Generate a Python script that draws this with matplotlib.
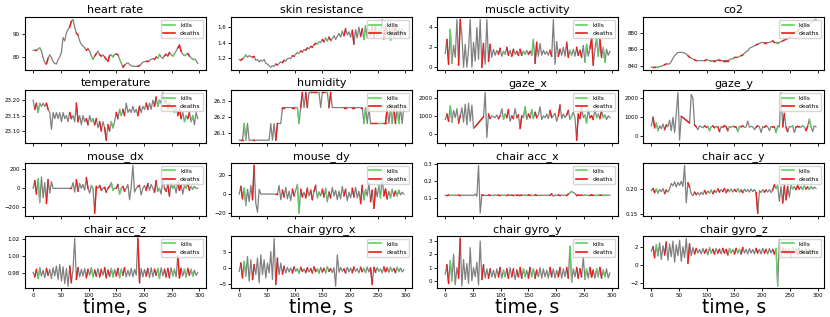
import matplotlib
matplotlib.use('Agg')
import matplotlib.pyplot as plt
import numpy as np
from matplotlib.lines import Line2D

# time grid (s) shared by all signals
t = np.arange(0, 300, 3)

# event times (s)
kills = [11, 108, 144, 159, 228, 255, 276, 288]
deaths = [5, 27, 69, 79, 97, 114, 123, 131, 138, 153, 165, 192, 207,
          222, 240, 246, 264, 267, 282]

titles = ['heart rate', 'skin resistance', 'muscle activity', 'co2',
          'temperature', 'humidity', 'gaze_x', 'gaze_y',
          'mouse_dx', 'mouse_dy', 'chair acc_x', 'chair acc_y',
          'chair acc_z', 'chair gyro_x', 'chair gyro_y', 'chair gyro_z']

heart_rate = [
    83.0, 83.0, 83.0, 83.5, 84.0, 82.6, 79.7, 77.5, 77.0, 79.5,
    81.0, 79.7, 78.0, 77.2, 77.0, 79.0, 80.0, 82.0, 88.5, 87.0,
    90.5, 92.0, 93.0, 95.5, 96.3, 93.0, 90.4, 89.5, 87.0, 85.5,
    84.8, 84.1, 83.0, 83.5, 82.6, 80.5, 79.0, 80.4, 81.5, 82.6,
    81.0, 80.4, 81.0, 80.0, 79.0, 78.2, 80.7, 81.0, 80.0, 81.2,
    81.3, 81.0, 79.0, 77.5, 75.6, 76.5, 77.2, 77.5, 76.8, 76.2,
    76.0, 76.0, 76.0, 76.0, 76.3, 77.0, 77.8, 78.0, 78.2, 78.2,
    78.5, 79.0, 79.4, 79.0, 80.0, 79.5, 81.2, 80.0, 79.4, 80.5,
    81.2, 80.5, 82.0, 81.0, 80.4, 81.5, 82.6, 84.0, 85.1, 82.5,
    81.2, 80.7, 81.0, 81.5, 80.5, 79.7, 79.0, 79.2, 78.5, 77.2]

skin_resistance = [
    1.18, 1.17, 1.19, 1.21, 1.24, 1.21, 1.23, 1.22, 1.21, 1.22,
    1.17, 1.18, 1.15, 1.17, 1.16, 1.18, 1.13, 1.12, 1.10, 1.08,
    1.10, 1.09, 1.12, 1.11, 1.13, 1.15, 1.14, 1.17, 1.16, 1.19,
    1.20, 1.19, 1.23, 1.22, 1.25, 1.27, 1.26, 1.29, 1.28, 1.31,
    1.30, 1.33, 1.32, 1.35, 1.34, 1.37, 1.39, 1.38, 1.41, 1.40,
    1.44, 1.41, 1.46, 1.42, 1.47, 1.43, 1.45, 1.49, 1.44, 1.48,
    1.52, 1.47, 1.55, 1.49, 1.58, 1.50, 1.54, 1.47, 1.56, 1.38,
    1.57, 1.46, 1.60, 1.48, 1.58, 1.44, 1.62, 1.46, 1.57, 1.50,
    1.61, 1.47, 1.63, 1.49, 1.57, 1.52, 1.70, 1.45, 1.60, 1.52,
    1.62, 1.43, 1.60, 1.48, 1.63, 1.50, 1.59, 1.46, 1.58, 1.53]

muscle_activity = [
    1.4, 2.8, 0.3, 3.8, 0.4, 2.2, 1.0, 4.8, 0.2, 4.8,
    3.2, 0.0, 2.3, 0.0, 1.8, 4.8, 0.0, 2.5, 0.6, 4.0,
    0.8, 4.8, 0.0, 2.4, 0.3, 4.8, 0.6, 2.3, 1.0, 1.8,
    1.2, 1.7, 1.3, 1.9, 1.1, 1.6, 1.3, 2.0, 1.2, 1.7,
    1.1, 1.8, 1.3, 1.6, 1.2, 1.8, 1.2, 1.6, 1.3, 1.7,
    1.3, 1.6, 1.2, 2.8, 0.4, 2.5, 1.1, 2.4, 1.2, 1.7,
    1.3, 1.6, 1.2, 1.7, 1.1, 4.8, 0.3, 2.6, 1.1, 1.8,
    1.2, 2.0, 1.1, 2.5, 1.0, 1.7, 1.2, 1.8, 1.1, 2.0,
    1.2, 1.7, 1.0, 2.2, 0.5, 2.3, 1.1, 1.9, 2.9, 0.2,
    1.8, 3.0, 1.1, 2.8, 1.0, 2.0, 0.5, 1.8, 1.2, 1.6]

co2 = [
    838, 838, 838, 838, 838, 839, 839, 840, 841, 842,
    842, 842, 845, 849, 852, 854, 856, 856, 856, 856,
    855, 854, 852, 850, 849, 848, 847, 846, 846, 846,
    846, 846, 846, 847, 847, 846, 846, 846, 846, 846,
    847, 847, 846, 846, 846, 846, 846, 847, 848, 848,
    850, 850, 850, 851, 852, 853, 855, 857, 858, 861,
    862, 863, 864, 865, 866, 867, 868, 868, 868, 868,
    868, 868, 869, 870, 868, 868, 868, 868, 869, 870,
    871, 872, 873, 874, 876, 878, 880, 881, 882, 884,
    885, 886, 887, 888, 889, 890, 892, 893, 895, 896]

temperature = [
    23.20, 23.17, 23.19, 23.16, 23.19, 23.18, 23.19, 23.18, 23.19, 23.17,
    23.16, 23.105, 23.16, 23.14, 23.16, 23.14, 23.16, 23.13, 23.16, 23.14,
    23.15, 23.13, 23.16, 23.14, 23.15, 23.13, 23.19, 23.13, 23.15, 23.12,
    23.15, 23.13, 23.14, 23.12, 23.15, 23.13, 23.14, 23.12, 23.14, 23.11,
    23.13, 23.10, 23.13, 23.11, 23.07, 23.12, 23.10, 23.13, 23.11, 23.13,
    23.16, 23.14, 23.17, 23.15, 23.17, 23.15, 23.19, 23.16, 23.17, 23.16,
    23.18, 23.16, 23.17, 23.15, 23.18, 23.16, 23.18, 23.17, 23.19, 23.17,
    23.19, 23.17, 23.20, 23.18, 23.21, 23.18, 23.20, 23.19, 23.225, 23.19,
    23.20, 23.17, 23.19, 23.17, 23.18, 23.16, 23.18, 23.15, 23.17, 23.14,
    23.16, 23.13, 23.15, 23.14, 23.16, 23.13, 23.15, 23.12, 23.16, 23.14]

humidity = [
    26.055, 26.055, 26.055, 26.16, 26.055, 26.16, 26.055, 26.055, 26.055, 26.055,
    26.055, 26.055, 26.055, 26.055, 26.055, 26.055, 26.055, 26.055, 26.055, 26.16,
    26.055, 26.16, 26.055, 26.16, 26.16, 26.16, 26.26, 26.26, 26.26, 26.26,
    26.26, 26.26, 26.26, 26.26, 26.26, 26.26, 26.16, 26.26, 26.355, 26.26,
    26.355, 26.26, 26.355, 26.355, 26.355, 26.355, 26.355, 26.355, 26.355, 26.26,
    26.355, 26.355, 26.355, 26.355, 26.26, 26.355, 26.26, 26.26, 26.26, 26.26,
    26.26, 26.26, 26.26, 26.26, 26.26, 26.26, 26.26, 26.26, 26.26, 26.26,
    26.26, 26.26, 26.26, 26.26, 26.26, 26.16, 26.26, 26.16, 26.26, 26.16,
    26.16, 26.16, 26.16, 26.16, 26.16, 26.16, 26.16, 26.16, 26.16, 26.26,
    26.16, 26.26, 26.16, 26.26, 26.16, 26.26, 26.16, 26.26, 26.16, 26.26]

nan = np.nan
gaze_x = [
    800, 1100, 700, 1550, 650, 1300, 900, 1400, 600, 1000,
    1450, 650, 1650, 500, 1700, 700, 1600, 300, 400, nan,
    nan, nan, nan, 950, 2300, -200, 1100, 850, 1000, 950,
    900, 1050, 850, 1000, 1400, 800, 1100, 900, 1350, 700,
    1000, 850, 1400, 900, 1050, 300, 1000, 900, 1500, 800,
    1100, 900, 1350, 850, 1200, 900, 1050, 1500, 800, 1000,
    900, 1100, 850, 1300, 900, 1000, 1150, 700, 1000, 1600,
    850, 1100, 900, 1050, 1300, 800, 1000, 1200, 900, -350,
    1100, 850, 1500, 900, 1050, 600, 1400, 900, 1000, 800,
    1350, 900, 1100, 850, 1300, 900, 1050, 800, 1000, 900]

gaze_y = [
    550, 1000, 450, 700, 300, 550, 400, 650, 350, 600,
    500, 850, 300, 1000, 200, 1200, 2300, -200, 1050, nan,
    nan, nan, nan, 700, 2200, 2000, 600, 500, 350, 550,
    500, 450, 550, 480, 520, 300, 500, 550, 450, 520,
    500, 250, 520, 480, 560, 500, 300, 520, 470, 540,
    500, 480, 250, 520, 500, 550, 470, 500, 800, 480,
    520, 500, 350, 480, 550, 500, 200, 520, 480, 550,
    500, 300, 520, 480, 500, 200, 550, 480, 2300, 500,
    1200, 480, 250, 520, 500, 550, 200, 480, 520, 500,
    480, 550, 500, 300, 520, 900, 500, 250, 550, 500]

mouse_dx = [
    0, 80, -60, 100, -150, 120, -100, 60, -160, 90,
    -50, 70, 0, 0, 0, 0, 0, 0, 0, 0,
    0, 0, 0, 0, 60, -40, 90, -30, 50, 0,
    40, -20, 110, 0, -50, 30, 0, -260, 20, 0,
    30, -20, 0, 10, -40, 0, 20, 60, -20, 0,
    0, 40, -60, 0, 20, -30, 0, 40, -120, 20,
    240, -40, 0, 20, 30, -70, 0, 30, -20, 50,
    -20, 40, 0, -40, 80, -30, 0, -60, 100, 0,
    -30, 40, -80, 50, 0, 30, -50, 70, -20, 40,
    -60, 30, 0, 50, -20, 20, -10, 20, 0, 0]

mouse_dy = [
    0, 8, -5, 6, -12, 5, -8, 9, -6, 30,
    -10, -19, 5, 0, 0, 0, 0, 0, 0, 0,
    0, 0, 0, 0, 9, -6, 4, -3, 7, -5,
    3, -7, 5, -2, 4, 10, -20, 5, -3, 2,
    -4, 6, -2, 4, -6, 3, 9, -4, 2, -2,
    5, -3, 6, -8, 2, -4, 7, -2, 4, -6,
    3, -5, 8, -2, 5, -7, 2, -4, 6, -3,
    7, -4, 3, -10, 9, -6, 5, -2, 12, -8,
    4, -15, 6, -3, 9, -4, 18, -2, 5, -5,
    3, -4, 5, -2, 3, -2, 4, -1, 2, 0]

chair_acc_x = [
    0.118, 0.116, 0.120, 0.117, 0.119, 0.116, 0.120, 0.117, 0.119, 0.116,
    0.120, 0.117, 0.119, 0.116, 0.120, 0.117, 0.119, 0.116, 0.125, 0.112,
    0.290, 0.015, 0.120, 0.117, 0.119, 0.116, 0.120, 0.117, 0.119, 0.116,
    0.120, 0.117, 0.119, 0.116, 0.120, 0.117, 0.119, 0.116, 0.120, 0.117,
    0.119, 0.116, 0.120, 0.117, 0.119, 0.116, 0.120, 0.117, 0.119, 0.116,
    0.120, 0.117, 0.119, 0.116, 0.120, 0.117, 0.119, 0.116, 0.120, 0.117,
    0.119, 0.116, 0.120, 0.117, 0.126, 0.111, 0.120, 0.117, 0.119, 0.116,
    0.120, 0.117, 0.119, 0.116, 0.125, 0.132, 0.140, 0.133, 0.128, 0.116,
    0.120, 0.117, 0.119, 0.116, 0.120, 0.117, 0.119, 0.116, 0.120, 0.117,
    0.119, 0.116, 0.120, 0.117, 0.119, 0.116, 0.120, 0.117, 0.119, 0.118]

chair_acc_y = [
    0.196, 0.200, 0.192, 0.199, 0.191, 0.198, 0.194, 0.200, 0.190, 0.197,
    0.193, 0.199, 0.210, 0.205, 0.213, 0.203, 0.212, 0.206, 0.214, 0.204,
    0.245, 0.172, 0.211, 0.203, 0.190, 0.186, 0.193, 0.188, 0.192, 0.187,
    0.193, 0.188, 0.196, 0.190, 0.195, 0.191, 0.197, 0.190, 0.196, 0.192,
    0.199, 0.193, 0.198, 0.194, 0.200, 0.192, 0.198, 0.194, 0.199, 0.193,
    0.198, 0.194, 0.200, 0.193, 0.197, 0.192, 0.199, 0.194, 0.198, 0.193,
    0.199, 0.194, 0.198, 0.192, 0.152, 0.196, 0.192, 0.198, 0.193, 0.197,
    0.193, 0.198, 0.192, 0.197, 0.207, 0.200, 0.206, 0.175, 0.204, 0.172,
    0.205, 0.178, 0.204, 0.183, 0.206, 0.199, 0.204, 0.198, 0.205, 0.199,
    0.204, 0.198, 0.205, 0.199, 0.203, 0.198, 0.204, 0.199, 0.203, 0.200]

chair_acc_z = [
    0.980, 0.975, 0.984, 0.973, 0.986, 0.976, 0.983, 0.974, 0.985, 0.977,
    0.984, 0.973, 0.986, 0.976, 0.988, 0.972, 0.990, 0.970, 0.987, 0.967,
    0.985, 0.964, 0.988, 0.968, 0.984, 1.021, 0.972, 0.986, 0.975, 0.984,
    0.976, 0.985, 0.974, 0.984, 0.977, 0.986, 0.975, 0.983, 0.976, 0.985,
    0.975, 0.984, 0.977, 0.986, 0.974, 0.983, 0.976, 0.985, 0.975, 0.984,
    0.976, 0.985, 0.974, 0.984, 0.977, 0.986, 0.975, 0.983, 0.976, 0.985,
    0.975, 0.984, 0.977, 1.021, 0.968, 0.985, 0.975, 0.984, 0.976, 0.985,
    0.974, 0.986, 0.975, 0.984, 0.977, 0.985, 0.973, 0.986, 0.976, 0.984,
    0.975, 0.985, 0.974, 0.986, 0.976, 0.984, 0.975, 1.000, 0.974, 0.985,
    0.976, 0.984, 0.975, 0.985, 0.977, 0.984, 0.976, 0.983, 0.977, 0.980]

chair_gyro_x = [
    -1.0, 1.5, -3.0, 2.0, -2.5, 3.5, -4.0, 2.5, -3.5, 1.0,
    -2.0, 3.0, -4.5, 4.0, -2.0, 2.5, -3.0, 1.5, -1.5, 5.0,
    -3.5, 9.0, -5.0, 3.0, -2.0, 1.5, -1.8, 0.5, -1.5, 0.2,
    -1.2, 0.0, -1.5, 0.3, -1.0, -0.2, -1.6, 0.2, -1.0, -0.3,
    -1.4, 0.1, -1.2, -0.2, -1.5, 0.3, -1.1, -0.3, -1.6, 0.2,
    -1.2, -0.1, -1.5, 0.4, -1.0, -0.2, -1.4, 0.1, -5.5, 4.0,
    -1.3, 0.2, -1.0, -0.3, -1.5, 0.2, -1.2, 0.0, -1.4, 0.3,
    -1.0, -0.2, -1.5, 0.2, -1.1, -0.1, -1.4, 0.3, -1.2, 0.0,
    -5.0, 0.2, -1.3, 0.1, -1.0, -0.3, -1.5, 0.3, -1.1, 0.0,
    -1.3, 0.2, -1.0, -0.2, -1.4, 0.2, -1.1, 0.0, -1.2, -0.5]

chair_gyro_y = [
    0.5, 1.2, -0.2, 1.5, 0.0, 2.0, -0.3, 1.0, 0.2, 3.2,
    -0.4, 1.6, 0.1, 1.3, -0.2, 2.5, 0.0, 1.0, 0.3, 1.4,
    -0.3, 3.0, 0.1, 1.2, 0.2, 0.9, 0.2, 0.9, 0.3, 0.8,
    0.2, 0.9, 0.3, 1.0, 0.2, 0.8, 0.3, 0.9, 0.2, 1.0,
    0.3, 0.9, 0.1, 0.8, 0.3, 1.0, 0.2, 0.9, 0.3, 0.8,
    0.2, 1.0, 0.3, 0.9, 0.2, 0.8, 0.3, 1.0, 0.2, 0.9,
    0.3, 0.8, 0.2, 1.0, 0.3, 0.9, 0.2, 0.8, 0.3, 1.0,
    0.2, 0.9, 0.3, 1.0, 0.2, 2.6, -0.1, 0.9, 0.3, 1.0,
    0.2, 0.9, 0.3, 1.8, 0.1, 0.9, 0.2, 1.0, 0.3, 0.8,
    0.2, 0.9, 0.3, 1.0, 0.2, 0.8, 0.3, 0.9, 0.2, 0.6]

chair_gyro_z = [
    1.5, 2.0, 0.8, 2.2, 1.0, 2.4, 0.6, 2.1, 1.1, 2.5,
    0.5, 2.3, 0.9, 2.6, 0.3, 2.2, 1.0, 2.7, 0.4, 2.0,
    0.8, 2.9, 0.2, 2.3, 1.0, 1.9, 1.2, 1.8, 1.3, 1.7,
    1.2, 1.8, 1.3, 1.7, 1.1, 1.9, 1.3, 1.7, 1.2, 1.8,
    1.3, 1.7, 1.2, 1.8, 1.3, 1.7, 1.1, 1.8, 1.3, 1.7,
    1.2, 1.8, 1.3, 1.7, 1.2, 1.9, 1.3, 1.7, 1.2, 1.8,
    1.3, 1.7, 1.2, 1.8, 1.3, 1.7, 1.2, 1.8, 1.3, 1.7,
    1.2, 1.8, 1.3, 1.7, 1.2, 1.8, -2.3, 2.8, 1.0, 1.9,
    1.3, 1.7, 1.2, 1.8, 0.9, 2.0, 1.3, 1.7, 1.2, 1.8,
    1.3, 1.7, 1.2, 1.8, 1.3, 1.7, 1.2, 1.8, 1.3, 1.6]

signals = [heart_rate, skin_resistance, muscle_activity, co2,
           temperature, humidity, gaze_x, gaze_y,
           mouse_dx, mouse_dy, chair_acc_x, chair_acc_y,
           chair_acc_z, chair_gyro_x, chair_gyro_y, chair_gyro_z]

kill_color = '#5fd35f'
death_color = '#f01818'

fig, axes = plt.subplots(4, 4, figsize=(8.3, 3.17), dpi=100, sharex=True)
plt.subplots_adjust(left=0.030, right=0.993, top=0.946, bottom=0.090,
                    wspace=0.138, hspace=0.39)


def mark_events(ax, tt, yy, times, color):
    # colour the piece of signal that spans each event
    for te in times:
        i = np.searchsorted(tt, te)
        i = min(max(i, 1), len(tt) - 1)
        ax.plot(tt[i - 1:i + 1], yy[i - 1:i + 1], color=color, lw=1.0)


for ax, name, sig in zip(axes.flat, titles, signals):
    y = np.asarray(sig, dtype=float)
    ok = ~np.isnan(y)
    tt, yy = t[ok], y[ok]
    ax.plot(tt, yy, color='gray', lw=0.9)
    mark_events(ax, tt, yy, kills, kill_color)
    mark_events(ax, tt, yy, deaths, death_color)
    ax.set_title(name, fontsize=8, pad=3)
    ax.tick_params(labelsize=4, length=2, width=0.6, pad=1.5)
    handles = [Line2D([], [], color=kill_color, lw=1.2),
               Line2D([], [], color=death_color, lw=1.2)]
    ax.legend(handles, ['kills', 'deaths'], loc='upper right', fontsize=4.3)

for ax in axes[-1]:
    ax.set_xticks(np.arange(0, 301, 50))
    ax.set_xlabel('time, s', fontsize=13.5, labelpad=0)

plt.savefig('out.png', dpi=100)
